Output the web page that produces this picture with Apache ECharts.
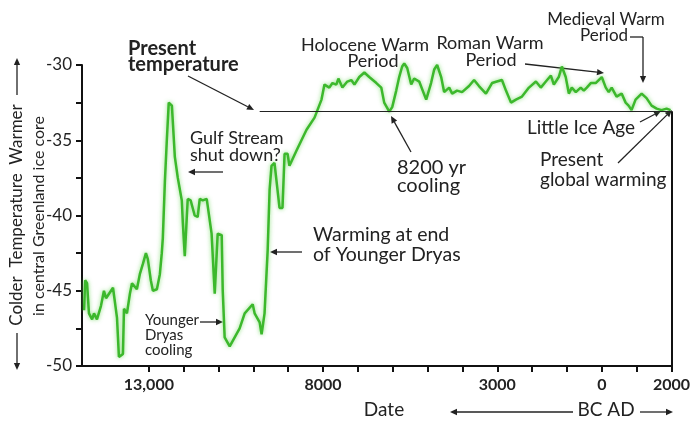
<!DOCTYPE html>
<html>
<head>
<meta charset="utf-8">
<script src="https://cdn.jsdelivr.net/npm/echarts@6/dist/echarts.min.js"></script>
<style>
html, body { margin: 0; padding: 0; background: #fff; }
#chart { width: 693px; height: 421px; }
</style>
</head>
<body>
<div id="chart"></div>
<script>
// central Greenland ice core temperature, year (negative = BC) vs deg C
const years = [
  -14860, -14830, -14775, -14720, -14630, -14575, -14490, -14375, -14290, -14230,
  -14030, -13915, -13860, -13745, -13715, -13630, -13545, -13485, -13345, -13260,
  -13170, -13085, -13030, -12945, -12885, -12770, -12685, -12630, -12600, -12540,
  -12485, -12430, -12340, -12310, -12255, -12170, -12055, -12025, -11970, -11885,
  -11860, -11800, -11685, -11600, -11540, -11455, -11340, -11310, -11200, -11110,
  -11025, -10910, -10880, -10825, -10680, -10625, -10395, -10250, -10020, -9965,
  -9820, -9765, -9680, -9590, -9535, -9480, -9395, -9250, -9165, -9105,
  -9020, -8965, -8765, -8620, -8475, -8245, -8045, -7960, -7820, -7730,
  -7620, -7560, -7445, -7305, -7190, -7100, -6960, -6815, -6675, -6470,
  -6330, -6245, -6100, -6015, -5900, -5815, -5730, -5670, -5585, -5470,
  -5385, -5240, -5040, -4900, -4810, -4725, -4610, -4525, -4380, -4295,
  -4155, -4010, -3810, -3665, -3525, -3325, -3150, -3010, -2865, -2750,
  -2605, -2465, -2290, -2090, -1890, -1750, -1605, -1460, -1375, -1235,
  -1145, -1035, -945, -860, -745, -605, -515, -430, -315, -175,
  0, 115, 200, 285, 425, 570, 685, 770, 855, 970,
  1145, 1285, 1430, 1575, 1715, 1860, 1975
];
const temps = [
  -46.3, -44.3, -44.5, -46.5, -46.9, -46.5, -46.9, -46.0, -45.0, -45.5,
  -44.8, -46.8, -49.4, -49.2, -46.2, -46.5, -45.2, -44.5, -44.9, -43.9,
  -43.2, -42.5, -42.9, -44.3, -45.0, -44.9, -43.9, -42.5, -41.5, -37.7,
  -35.0, -32.5, -32.7, -33.9, -36.1, -37.5, -39.0, -40.5, -42.7, -38.9,
  -38.9, -39.0, -40.0, -40.1, -38.9, -39.0, -38.9, -39.0, -41.2, -45.2,
  -41.2, -41.3, -45.0, -48.1, -48.7, -48.8, -47.5, -46.5, -45.9, -46.5,
  -47.1, -47.9, -46.5, -42.3, -38.3, -36.7, -36.5, -39.5, -39.5, -35.9,
  -35.9, -36.7, -35.7, -35.0, -34.3, -33.5, -32.3, -31.3, -31.5, -31.2,
  -31.3, -30.9, -31.5, -31.1, -31.0, -31.3, -30.8, -30.5, -30.8, -31.2,
  -31.5, -32.5, -33.1, -32.8, -31.7, -30.8, -30.1, -29.9, -30.2, -31.3,
  -30.9, -31.1, -32.3, -31.2, -30.3, -30.0, -30.8, -31.8, -31.5, -31.9,
  -31.7, -31.8, -31.4, -31.0, -31.4, -31.9, -31.2, -31.1, -31.0, -31.7,
  -32.5, -32.3, -32.1, -31.5, -31.1, -31.5, -31.1, -30.7, -31.3, -30.8,
  -30.1, -30.8, -31.9, -31.5, -31.8, -31.5, -31.7, -31.5, -31.2, -31.2,
  -30.8, -31.5, -31.8, -31.5, -32.1, -31.9, -32.5, -32.7, -33.0, -32.3,
  -31.9, -32.2, -32.7, -32.9, -33.0, -32.9, -33.0
];

const presentTemp = -33.07;
const presentFrom = -9820;
const xTicks = [-13000, -12000, -11000, -10000, -9000, -8000, -7000, -6000, -5000, -4000, -3000, -2000, -1000, 0, 1000, 2000];
const xLabelValues = [-13000, -8000, -3000, 0, 2000];
const xLabelText = ['13,000', '8000', '3000', '0', '2000'];

const FONT = 'Lato';
const INK = '#222';

function txt(x, y, text, size, opt) {
  opt = opt || {};
  return {
    type: 'text', x: x, y: y, rotation: opt.rotation || 0,
    style: {
      text: text, fill: INK, fontFamily: FONT, fontSize: size,
      fontWeight: opt.bold ? 'bold' : 'normal',
      align: opt.align || 'left', verticalAlign: 'middle'
    }
  };
}

function arrow(x1, y1, x2, y2, head) {
  const a = Math.atan2(y2 - y1, x2 - x1);
  const len = head || 7, w = len * 0.45;
  const bx = x2 - len * Math.cos(a), by = y2 - len * Math.sin(a);
  const px = -Math.sin(a) * w, py = Math.cos(a) * w;
  return [
    { type: 'line', shape: { x1: x1, y1: y1, x2: bx, y2: by }, style: { stroke: INK, lineWidth: 1.3 } },
    { type: 'polygon', shape: { points: [[x2, y2], [bx + px, by + py], [bx - px, by - py]] }, style: { fill: INK } }
  ];
}

const chart = echarts.init(document.getElementById('chart'));

const graphics = [].concat(
  // y axis title
  txt(17, 215, 'Colder  Temperature  Warmer', 17, { rotation: Math.PI / 2, align: 'center' }),
  txt(39, 216, 'in central Greenland ice core', 16, { rotation: Math.PI / 2, align: 'center' }),
  arrow(17, 95, 17, 58),
  arrow(17, 333, 17, 370),
  // x axis title
  txt(384, 410, 'Date', 19, { align: 'center' }),
  txt(606, 410, 'BC AD', 19, { align: 'center' }),
  arrow(573, 412, 450, 412),
  arrow(640, 412, 673, 412),
  // annotations
  txt(128, 49, 'Present', 20, { bold: true }),
  txt(128, 65, 'temperature', 20, { bold: true }),
  arrow(188, 76, 254, 110),
  txt(365, 45, 'Holocene Warm', 18, { align: 'center' }),
  txt(373, 61, 'Period', 18, { align: 'center' }),
  txt(490, 43, 'Roman Warm', 18, { align: 'center' }),
  txt(491, 60, 'Period', 18, { align: 'center' }),
  arrow(525, 64, 604, 73),
  txt(606, 20, 'Medieval Warm', 17, { align: 'center' }),
  txt(604, 36, 'Period', 17, { align: 'center' }),
  [{ type: 'line', shape: { x1: 630, y1: 37, x2: 643, y2: 37 }, style: { stroke: INK, lineWidth: 1.3 } }],
  arrow(643, 37, 643, 83),
  txt(581, 128, 'Little Ice Age', 19, { align: 'center' }),
  arrow(640, 122, 661, 111),
  txt(540, 160, 'Present', 19),
  txt(540, 180, 'global warming', 19),
  arrow(618, 163, 672, 110),
  txt(397, 168, '8200 yr', 20),
  txt(397, 186, 'cooling', 20),
  arrow(411, 152, 391, 116),
  txt(190, 138, 'Gulf Stream', 18),
  txt(190, 155, 'shut down?', 18),
  arrow(223, 172, 188, 172),
  txt(313, 235, 'Warming at end', 19.5),
  txt(313, 255, 'of Younger Dryas', 19.5),
  arrow(302, 252, 270, 252),
  txt(145, 320, 'Younger', 15),
  txt(145, 335, 'Dryas', 15),
  txt(145, 350, 'cooling', 15),
  arrow(200, 322, 223, 322)
);

chart.setOption({
  animation: false,
  grid: { left: 82, right: 20, top: 65, bottom: 55 },
  xAxis: {
    type: 'value',
    min: -14920,
    max: 2000,
    axisLine: { show: true, onZero: false, lineStyle: { color: '#111', width: 2 } },
    axisTick: { show: true, customValues: xTicks, length: 6, lineStyle: { color: '#111', width: 2 } },
    axisLabel: {
      customValues: xLabelValues,
      formatter: function (v) { return xLabelText[xLabelValues.indexOf(v)]; },
      fontFamily: FONT, fontWeight: 'bold', fontSize: 16, color: INK, margin: 11
    },
    splitLine: { show: false }
  },
  yAxis: {
    type: 'value',
    min: -50,
    max: -30,
    interval: 2.5,
    axisLine: { show: true, onZero: false, lineStyle: { color: '#111', width: 2 } },
    axisTick: { show: true, length: 6, lineStyle: { color: '#111', width: 2 } },
    axisLabel: {
      formatter: function (v) { return v % 5 === 0 ? String(v) : ''; },
      fontFamily: FONT, fontSize: 17, color: INK, margin: 10
    },
    splitLine: { show: false }
  },
  series: [{
    type: 'line',
    data: years.map(function (y, i) { return [y, temps[i]]; }),
    showSymbol: false,
    clip: false,
    lineStyle: { color: '#3cb82c', width: 2.5, shadowBlur: 4, shadowColor: 'rgba(90,210,70,0.7)' },
    markLine: {
      silent: true,
      symbol: ['none', 'none'],
      label: { show: false },
      lineStyle: { color: INK, type: 'solid', width: 1.2 },
      data: [
        [{ coord: [presentFrom, presentTemp] }, { coord: [2000, presentTemp] }],
        [{ coord: [2000, presentTemp], lineStyle: { width: 2, color: '#111' } }, { coord: [2000, -50] }]
      ]
    }
  }],
  graphic: graphics
});
</script>
</body>
</html>
